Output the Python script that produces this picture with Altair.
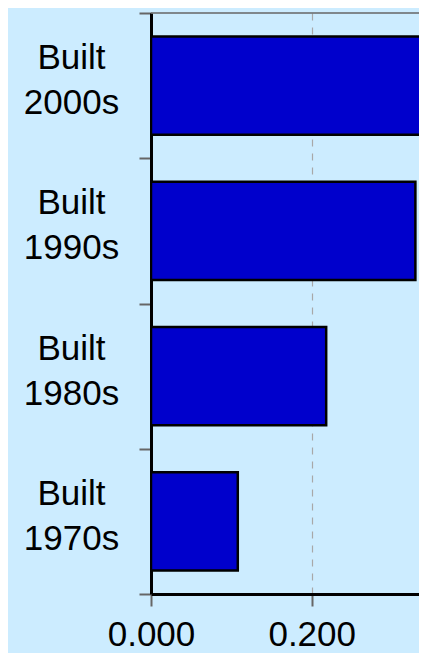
import altair as alt
import pandas as pd

categories = ["Built 2000s", "Built 1990s", "Built 1980s", "Built 1970s"]
values = [0.360, 0.329, 0.218, 0.108]
x_ticks = [0.0, 0.2]

df = pd.DataFrame({"cat": categories, "value": values})

FONT = "Liberation Sans"

bars = alt.Chart(df).mark_bar(
    color="#0000CC", stroke="black", strokeWidth=2.5, clip=True,
    height={"band": 0.675},
).encode(
    y=alt.Y(
        "cat:N",
        sort=categories,
        scale=alt.Scale(paddingInner=0, paddingOuter=0),
        axis=alt.Axis(
            title=None,
            tickBand="extent",
            labelExpr="split(datum.label, ' ')",
            labelFontSize=35,
            labelFont=FONT,
            labelColor="black",
            labelAlign="center",
            labelBaseline="middle",
            labelPadding=68,
            labelLineHeight=45,
            labelOffset=-28,
            tickSize=12,
            tickColor="#666666",
            tickWidth=2,
            domainColor="black",
            domainWidth=3,
            grid=False,
        ),
    ),
    x=alt.X(
        "value:Q",
        scale=alt.Scale(domain=[0, 0.3335], nice=False, zero=True),
        axis=alt.Axis(
            values=x_ticks,
            format=".3f",
            title=None,
            grid=True,
            gridDash=[7, 7],
            gridColor="#A8A8A8",
            gridWidth=1.2,
            tickSize=12,
            tickColor="#666666",
            tickWidth=2,
            domainColor="black",
            domainWidth=3,
            labelFontSize=35,
            labelFont=FONT,
            labelColor="black",
            labelPadding=11,
            labelFlush=False,
        ),
    ),
)

top_line = alt.Chart(pd.DataFrame({"v": [0]})).mark_rule(
    color="#666666", strokeWidth=1.5
).encode(x=alt.value(0), x2=alt.value(268), y=alt.value(0))

chart = alt.layer(bars, top_line).properties(
    width=268,
    height=581,
    background="#CCECFF",
    padding={"left": 143, "top": 5, "right": 0, "bottom": 59},
    autosize=alt.AutoSizeParams(type="none"),
).configure_view(stroke=None)

chart.save("out.html", embed_options={"renderer": "svg", "actions": False})
